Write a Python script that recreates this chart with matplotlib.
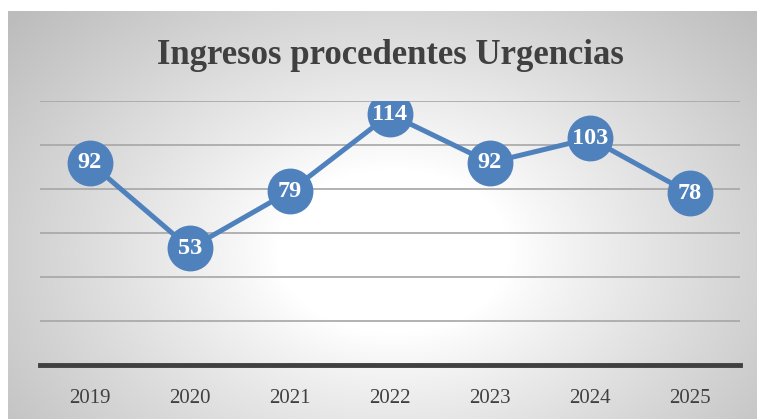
import matplotlib
matplotlib.use("Agg")
import matplotlib.pyplot as plt
import numpy as np

years = ["2019", "2020", "2021", "2022", "2023", "2024", "2025"]
ingresos = [92, 53, 79, 114, 92, 103, 78]
title = "Ingresos procedentes Urgencias"

serif = ["Liberation Serif", "DejaVu Serif"]
blue = "#4f81bd"
dark = "#404040"

W, H = 757, 419
fig = plt.figure(figsize=(W / 100, H / 100), dpi=100)

# chart area with a radial gradient (white centre, grey edges)
bg = fig.add_axes([8 / W, 0, (W - 8) / W, (H - 11) / H])
bg.set_axis_off()
yy, xx = np.mgrid[0:408, 0:749]
r = np.sqrt(((xx - 385) / 470.0) ** 2 + ((yy - 240) / 330.0) ** 2)
shade = 1.0 - 0.24 * np.clip(r - 0.25, 0, 1) ** 0.9 / 0.75 ** 0.9
shade = np.clip(shade, 0.74, 1.0)
bg.imshow(np.dstack([shade] * 3), aspect="auto", extent=[0, 1, 0, 1])
bg.set_xlim(0, 1)
bg.set_ylim(0, 1)

ax = fig.add_axes([40 / W, (H - 365) / H, 700 / W, 264 / H])
ax.patch.set_alpha(0)
x = np.arange(len(years))
ax.plot(x, ingresos, color=blue, lw=3.6, marker="o", ms=32,
        markerfacecolor=blue, markeredgecolor=blue, zorder=3)
for xi, v in zip(x, ingresos):
    ax.text(xi, v, str(v), color="white", fontsize=17.5, fontweight="bold",
            family=serif, ha="center", va="center", zorder=4)

ax.set_xlim(-0.5, len(years) - 0.5)
ax.set_ylim(0, 120)
ax.set_yticks(np.arange(20, 121, 20))
ax.yaxis.grid(True, color="#a6a6a6", lw=1.2)
ax.set_axisbelow(True)
ax.tick_params(axis="y", left=False, labelleft=False)
ax.tick_params(axis="x", length=0, pad=17, labelsize=15, labelcolor=dark)
ax.set_xticks(x)
ax.set_xticklabels(years, family=serif)
for s in ["top", "left", "right"]:
    ax.spines[s].set_visible(False)
ax.spines["bottom"].set_color(dark)
ax.spines["bottom"].set_linewidth(3.5)

fig.text(390 / W, 1 - 56 / H, title, ha="center", va="center",
         fontsize=25, fontweight="bold", color=dark, family=serif)

fig.savefig("out.png", dpi=100)
